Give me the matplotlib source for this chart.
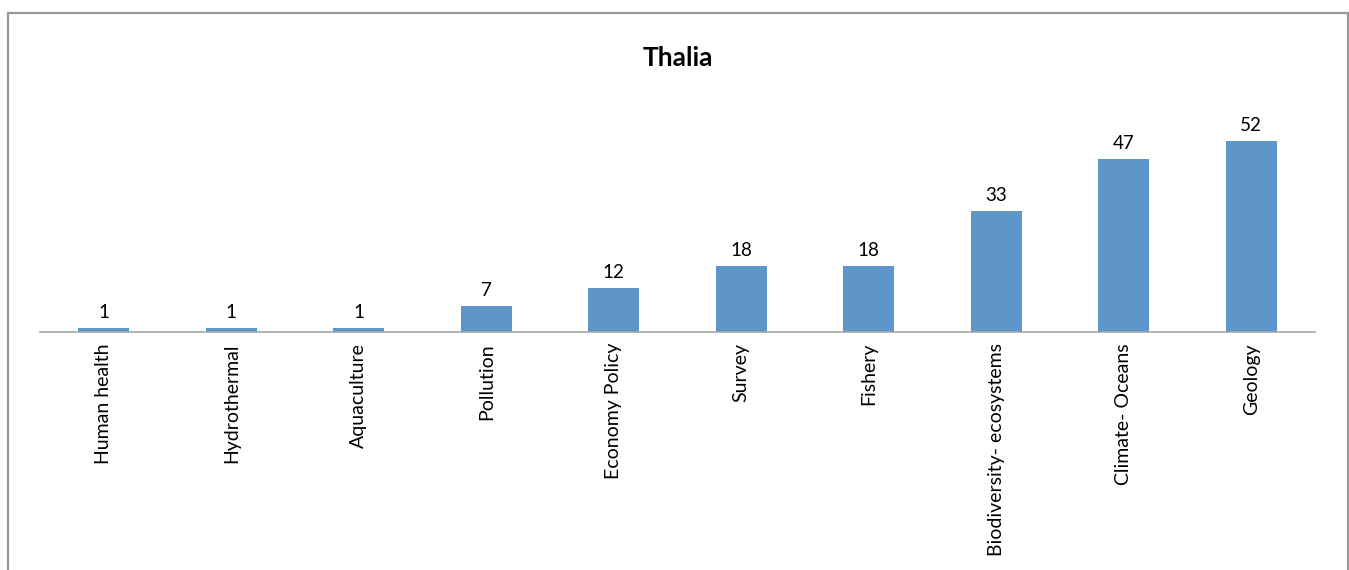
import matplotlib.pyplot as plt
from matplotlib.patches import Rectangle
import numpy as np

categories = ["Human health", "Hydrothermal", "Aquaculture", "Pollution",
              "Economy Policy", "Survey", "Fishery", "Biodiversity- ecosystems",
              "Climate- Oceans", "Geology"]
counts = [1, 1, 1, 7, 12, 18, 18, 33, 47, 52]

plt.rcParams["font.family"] = ["Lato", "DejaVu Sans"]

W, H = 1349, 570
fig = plt.figure(figsize=(W / 100, H / 100), dpi=100)

# outer chart frame (bottom edge is cut off in the original)
fig.patches.append(Rectangle((8 / W, -0.05), 1340 / W, 1.05 - 13 / H,
                             transform=fig.transFigure, fill=False,
                             edgecolor="#9a9a9a", linewidth=1.6))

ax = fig.add_axes([40 / W, 1 - 332 / H, 1275 / W, 232 / H])
x = np.arange(len(categories))
bars = ax.bar(x, counts, width=0.4, color="#5f96c9")
ax.set_xlim(-0.5, len(categories) - 0.5)
ax.set_ylim(0, 232 / 3.673)

for b, v in zip(bars, counts):
    ax.annotate(str(v), (b.get_x() + b.get_width() / 2, v), xytext=(0, 5),
                textcoords="offset points", ha="center", va="bottom", fontsize=13.5)

ax.set_xticks(x)
ax.set_xticklabels(categories, rotation=90, fontsize=14, va="top")
ax.tick_params(axis="x", length=0, pad=8)
ax.set_yticks([])
for s in ["top", "right", "left"]:
    ax.spines[s].set_visible(False)
ax.spines["bottom"].set_color("#a6a6a6")
ax.spines["bottom"].set_linewidth(1.2)

fig.text(678 / W, 1 - 58 / H, "Thalia", ha="center", va="center",
         fontsize=19, fontweight="bold")

fig.savefig("out.png", dpi=100)
